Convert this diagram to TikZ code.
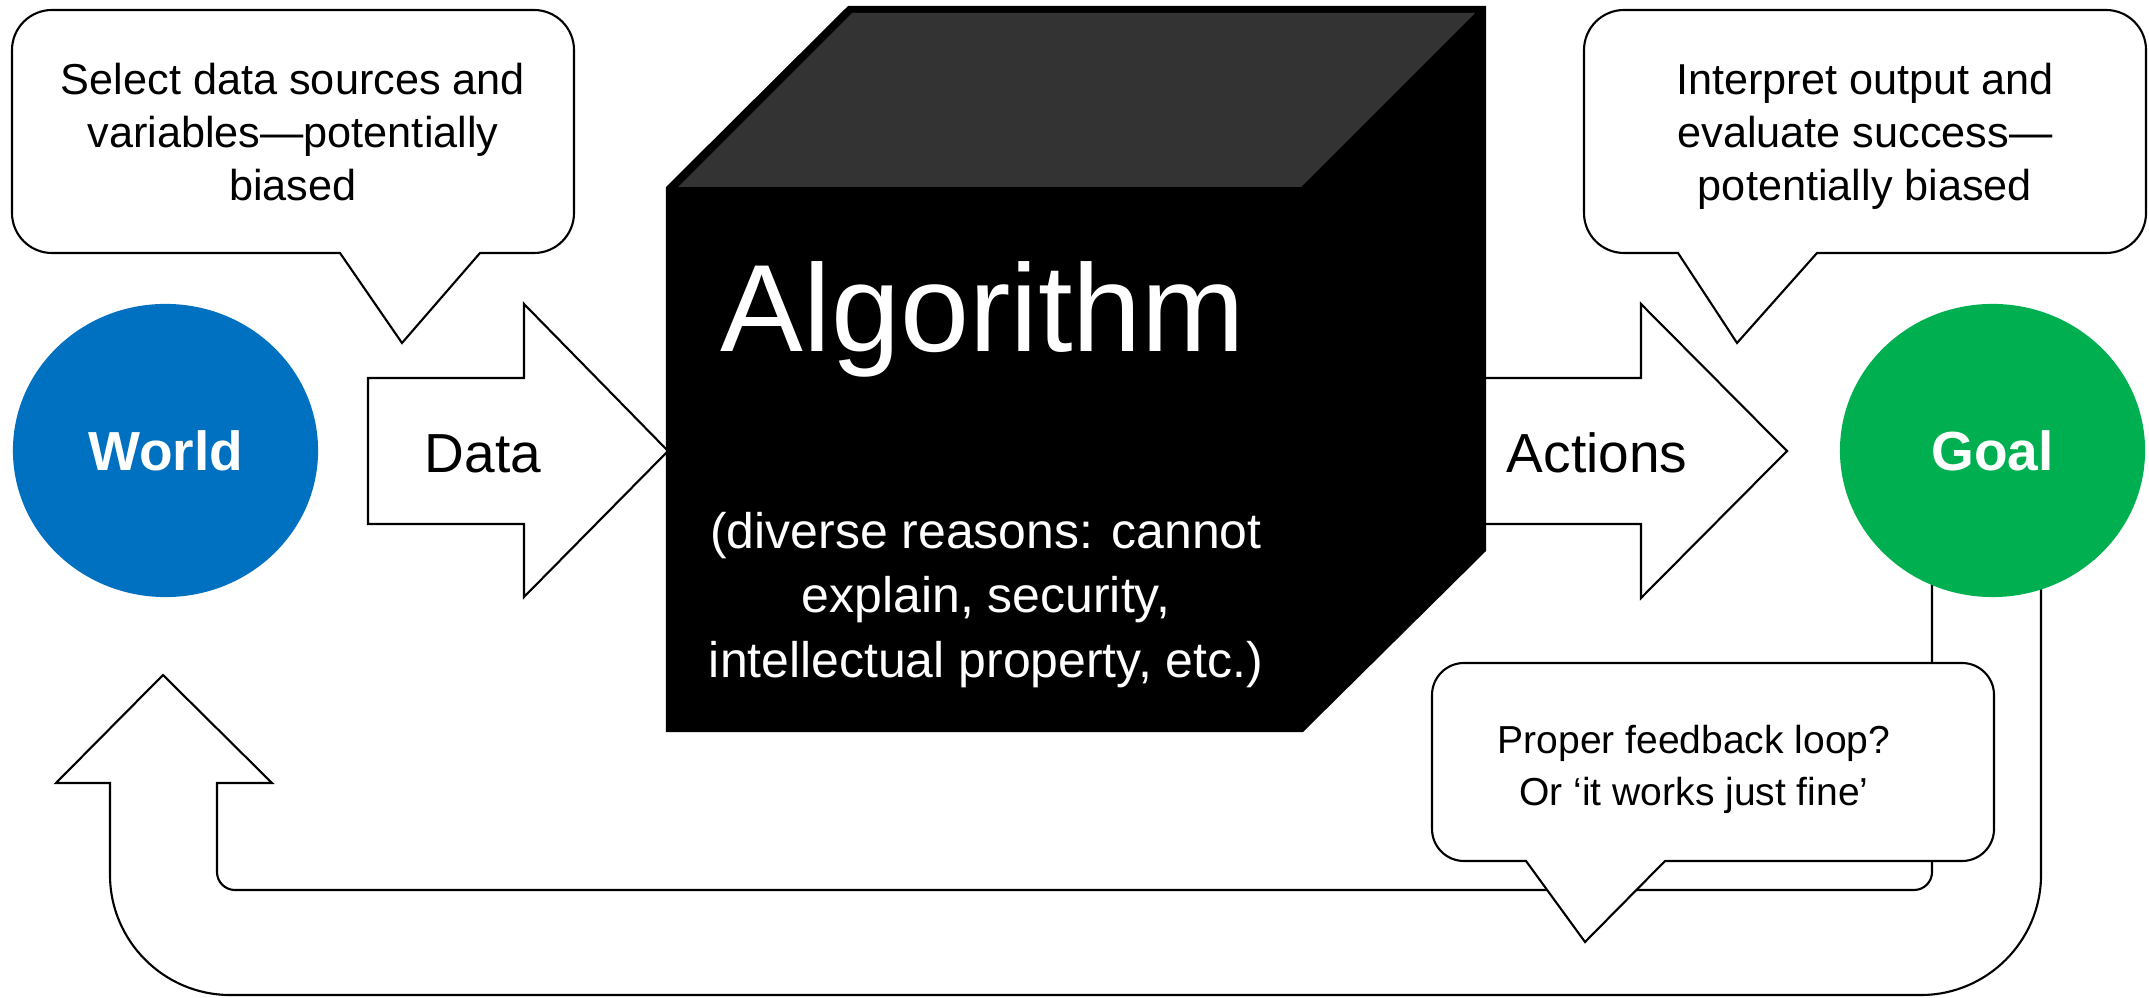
\documentclass[tikz,border=0pt]{standalone}
\usepackage{fontspec}
\setmainfont{Liberation Sans}
\usetikzlibrary{shapes.geometric}
\definecolor{worldblue}{HTML}{0070C0}
\definecolor{goalgreen}{HTML}{00B050}
\definecolor{cubetop}{HTML}{333333}
% rounded speech bubble: x1,y1,x2,y2, pointer base left, pointer base right, tip x, tip y, radius
\newcommand{\bubblepath}[9]{%
  \path[outline] ({#1+#9},#2) -- ({#3-#9},#2)
    .. controls ({#3-0.448*#9},#2) and (#3,{#2+0.448*#9}) .. (#3,{#2+#9})
    -- (#3,{#4-#9})
    .. controls (#3,{#4-0.448*#9}) and ({#3-0.448*#9},#4) .. ({#3-#9},#4)
    -- (#6,#4) -- (#7,#8) -- (#5,#4) -- ({#1+#9},#4)
    .. controls ({#1+0.448*#9},#4) and (#1,{#4-0.448*#9}) .. (#1,{#4-#9})
    -- (#1,{#2+#9})
    .. controls (#1,{#2+0.448*#9}) and ({#1+0.448*#9},#2) .. ({#1+#9},#2) -- cycle;}
\begin{document}
\begin{tikzpicture}[x=0.01cm,y=-0.01cm,
  outline/.style={draw=black,fill=white,line width=0.6pt,line join=miter},
  bubbletext/.style={align=center,inner sep=0pt,font=\fontsize{12.3}{14.94}\selectfont},
  smallbubbletext/.style={align=center,inner sep=0pt,font=\fontsize{11.1}{14.8}\selectfont},
  arrowlabel/.style={anchor=base,inner sep=0pt,font=\fontsize{15.65}{18}\selectfont},
  circlenode/.style={ellipse,minimum width=3.05cm,minimum height=2.93cm,inner sep=0pt,
    text=white,font=\fontsize{15.65}{18}\selectfont\bfseries}]
\useasboundingbox (0,0) rectangle (2149,998);
\fill[white] (0,0) rectangle (2149,998);

% feedback U-arrow
\path[outline] (2041,560) -- (2041,875)
  .. controls (2041,941) and (1987,995) .. (1921,995)
  -- (230,995)
  .. controls (164,995) and (110,941) .. (110,875)
  -- (110,783) -- (56,783) -- (163,675) -- (272,783) -- (217,783)
  -- (217,872) .. controls (217,882) and (225,890) .. (235,890)
  -- (1914,890) .. controls (1924,890) and (1932,882) .. (1932,872)
  -- (1932,560) -- cycle;

% circles
\node[circlenode,fill=worldblue] (world) at (165.5,450.5) {World};
\node[circlenode,fill=goalgreen] (goal) at (1992.5,450.5) {Goal};

% block arrows
\path[outline] (368,378) -- (524,378) -- (524,304) -- (668,451) -- (524,597)
  -- (524,524) -- (368,524) -- cycle;
\path[outline] (1480,378) -- (1641,378) -- (1641,304) -- (1787,451) -- (1641,598)
  -- (1641,524) -- (1480,524) -- cycle;

% cube
\path[fill=black,draw=black,line width=1.2pt,line join=miter]
  (668,188) -- (849,8) -- (1484,8) -- (1484,550) -- (1302,730) -- (668,730) -- cycle;
\fill[cubetop] (678,187) -- (852,13) -- (1475,13) -- (1301,187) -- cycle;

% callouts
\bubblepath{12}{10}{574}{253}{340}{480}{402}{343}{40}
\bubblepath{1584}{10}{2146}{253}{1678}{1817}{1737}{343}{40}
\bubblepath{1432}{663}{1994}{861}{1526}{1665}{1585}{942}{32}

% texts
\node[bubbletext] (sel) at (293,137) {Select data sources and\strut\\variables—potentially\strut\\biased\strut};
\node[bubbletext] (interp) at (1865,137) {Interpret output and\strut\\evaluate success—\strut\\potentially biased\strut};
\node[smallbubbletext] (feedback) at (1694,769) {Proper feedback loop?\strut\\Or ‘it works just fine’\strut};
\node[anchor=base,inner sep=0pt,text=white,font=\fontsize{35.3}{40}\selectfont] (alg) at (983,352) {Algorithm};
\node[align=center,inner sep=0pt,text=white,font=\fontsize{14.2}{18.35}\selectfont] (reasons) at (986,600)
  {(diverse reasons: cannot\strut\\explain, security,\strut\\intellectual property, etc.)\strut};
\node[arrowlabel] (data) at (483,473) {Data};
\node[arrowlabel] (actions) at (1597,473) {Actions};
\end{tikzpicture}
\end{document}
